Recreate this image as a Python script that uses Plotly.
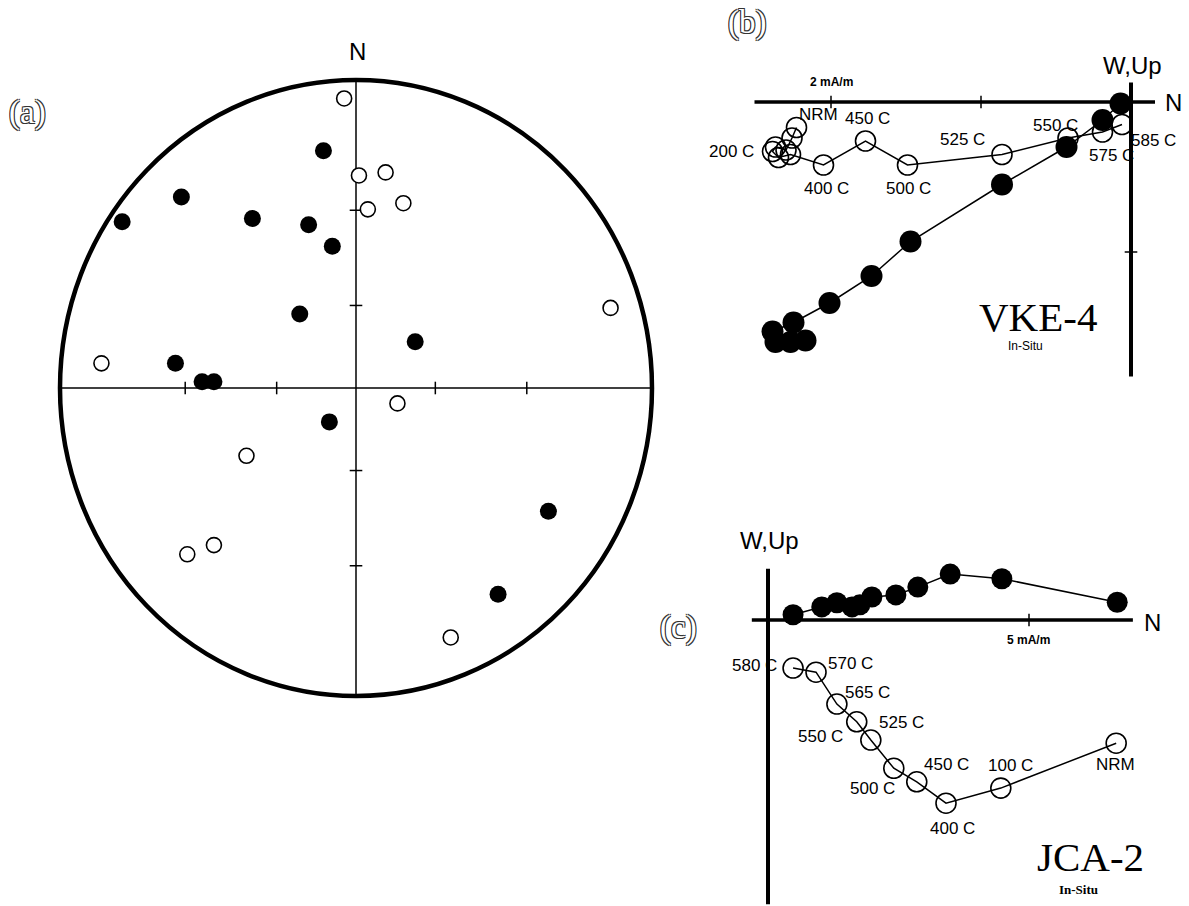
import plotly.graph_objects as go

# ---------------- DATA ----------------
# (a) stereographic projection, unit circle coordinates (east, north)
a_open_x = [-0.04, 0.01, 0.10, 0.04, 0.16, -0.86, 0.86, 0.14, -0.37, -0.48, -0.57, 0.32]
a_open_y = [0.94, 0.69, 0.70, 0.58, 0.60, 0.08, 0.26, -0.05, -0.22, -0.51, -0.54, -0.81]
a_fill_x = [-0.11, -0.59, -0.79, -0.35, -0.16, -0.08, -0.19, 0.20, -0.61, -0.52, -0.48, -0.09, 0.65, 0.48]
a_fill_y = [0.77, 0.62, 0.54, 0.55, 0.53, 0.46, 0.24, 0.15, 0.08, 0.02, 0.02, -0.11, -0.40, -0.67]
a_ticks = [-0.577, -0.268, 0.268, 0.577]

# (b) VKE-4 orthogonal plot, mA/m (N, W/Up)
b_open_x = [-2.23, -2.26, -2.30, -2.37, -2.39, -2.35, -2.27, -2.05, -1.77, -1.49, -0.86, -0.42, -0.19, -0.06]
b_open_y = [-0.17, -0.24, -0.32, -0.30, -0.33, -0.37, -0.35, -0.42, -0.26, -0.42, -0.35, -0.24, -0.20, -0.15]
b_open_lab = ["NRM", "", "", "", "200 C", "", "", "400 C", "450 C", "500 C", "525 C", "550 C", "575 C", "585 C"]
b_fill_x = [-0.07, -0.19, -0.43, -0.86, -1.47, -1.73, -2.01, -2.25, -2.39, -2.37, -2.27, -2.17]
b_fill_y = [-0.01, -0.12, -0.30, -0.55, -0.93, -1.16, -1.34, -1.47, -1.53, -1.60, -1.60, -1.59]
b_xticks = [-2, -1]
b_yticks = [-1]

# (c) JCA-2 orthogonal plot, mA/m (N, W/Up)
c_open_x = [0.48, 0.92, 1.32, 1.70, 1.97, 2.41, 2.85, 3.41, 4.46, 6.67]
c_open_y = [-0.92, -1.00, -1.61, -1.95, -2.30, -2.84, -3.10, -3.51, -3.22, -2.36]
c_open_lab = ["580 C", "570 C", "565 C", "525 C", "550 C", "500 C", "450 C", "400 C", "100 C", "NRM"]
c_fill_x = [0.48, 1.03, 1.32, 1.61, 1.76, 1.99, 2.45, 2.87, 3.49, 4.48, 6.69]
c_fill_y = [0.10, 0.25, 0.33, 0.25, 0.29, 0.44, 0.48, 0.63, 0.88, 0.79, 0.34]
c_xticks = [5]

# ---------------- LAYOUT HELPERS ----------------
W, H = 1189, 906


def xdom(p0, p1):
    return [p0 / W, p1 / W]


def ydom(top, bottom):
    return [1 - bottom / H, 1 - top / H]


def px(x, y):
    return dict(x=x / W, y=1 - y / H, xref="paper", yref="paper",
                xanchor="center", yanchor="middle", showarrow=False)


# panel geometry (pixel origin, pixel per unit)
A_CX, A_CY, A_RX, A_RY = 356, 388, 296, 308
B_OX, B_OY, B_S = 1131, 102, 150
C_OX, C_OY, C_S = 768, 620, 52.2

a_xr, a_yr = [-1.1, 1.1], [-1.1, 1.1]
b_xr, b_yr = [-2.75, 0.35], [-1.9, 0.55]
c_xr, c_yr = [-0.6, 7.3], [-5.45, 1.3]

fig = go.Figure()

BLACK = "black"
LBL_FONT = dict(family="Liberation Sans, Arial", size=17, color=BLACK)

# ---------- panel (a) ----------
fig.add_trace(go.Scatter(x=a_ticks, y=[0] * 4, mode="markers", xaxis="x", yaxis="y",
                         marker=dict(symbol="line-ns", size=9, line=dict(width=1.5, color=BLACK)),
                         hoverinfo="skip"))
fig.add_trace(go.Scatter(x=[0] * 4, y=a_ticks, mode="markers", xaxis="x", yaxis="y",
                         marker=dict(symbol="line-ew", size=9, line=dict(width=1.5, color=BLACK)),
                         hoverinfo="skip"))
fig.add_trace(go.Scatter(x=a_open_x, y=a_open_y, mode="markers", xaxis="x", yaxis="y",
                         marker=dict(symbol="circle", size=15, color="white",
                                     line=dict(width=1.6, color=BLACK))))
fig.add_trace(go.Scatter(x=a_fill_x, y=a_fill_y, mode="markers", xaxis="x", yaxis="y",
                         marker=dict(symbol="circle", size=17, color=BLACK,
                                     line=dict(width=0, color=BLACK))))

shapes = [
    dict(type="circle", xref="x", yref="y", x0=-1, y0=-1, x1=1, y1=1,
         line=dict(color=BLACK, width=4.5), layer="above"),
    dict(type="line", xref="x", yref="y", x0=-1, y0=0, x1=1, y1=0,
         line=dict(color=BLACK, width=1.5), layer="below"),
    dict(type="line", xref="x", yref="y", x0=0, y0=-1, x1=0, y1=1,
         line=dict(color=BLACK, width=1.5), layer="below"),
]

# ---------- panel (b) ----------
fig.add_trace(go.Scatter(x=b_open_x, y=b_open_y, mode="lines+markers", xaxis="x2", yaxis="y2",
                         line=dict(color=BLACK, width=1.5),
                         marker=dict(symbol="circle-open", size=20, color=BLACK,
                                     line=dict(width=1.6, color=BLACK))))
fig.add_trace(go.Scatter(x=b_fill_x, y=b_fill_y, mode="lines+markers", xaxis="x2", yaxis="y2",
                         line=dict(color=BLACK, width=1.5),
                         marker=dict(symbol="circle", size=22, color=BLACK)))
fig.add_trace(go.Scatter(x=b_xticks, y=[0] * len(b_xticks), mode="markers", xaxis="x2", yaxis="y2",
                         marker=dict(symbol="line-ns", size=9, line=dict(width=1.5, color=BLACK)),
                         hoverinfo="skip"))
fig.add_trace(go.Scatter(x=[0] * len(b_yticks), y=b_yticks, mode="markers", xaxis="x2", yaxis="y2",
                         marker=dict(symbol="line-ew", size=9, line=dict(width=1.5, color=BLACK)),
                         hoverinfo="skip"))
shapes += [
    dict(type="line", xref="x2", yref="y2", x0=-2.51, y0=0, x1=0.16, y1=0,
         line=dict(color=BLACK, width=3.5), layer="below"),
    dict(type="line", xref="x2", yref="y2", x0=0, y0=0.13, x1=0, y1=-1.83,
         line=dict(color=BLACK, width=4), layer="below"),
]

# ---------- panel (c) ----------
fig.add_trace(go.Scatter(x=c_open_x, y=c_open_y, mode="lines+markers", xaxis="x3", yaxis="y3",
                         line=dict(color=BLACK, width=1.5),
                         marker=dict(symbol="circle-open", size=20, color=BLACK,
                                     line=dict(width=1.6, color=BLACK))))
fig.add_trace(go.Scatter(x=c_fill_x, y=c_fill_y, mode="lines+markers", xaxis="x3", yaxis="y3",
                         line=dict(color=BLACK, width=1.5),
                         marker=dict(symbol="circle", size=21, color=BLACK)))
fig.add_trace(go.Scatter(x=c_xticks, y=[0] * len(c_xticks), mode="markers", xaxis="x3", yaxis="y3",
                         marker=dict(symbol="line-ns", size=9, line=dict(width=1.5, color=BLACK)),
                         hoverinfo="skip"))
shapes += [
    dict(type="line", xref="x3", yref="y3", x0=-0.31, y0=0, x1=6.99, y1=0,
         line=dict(color=BLACK, width=3.5), layer="below"),
    dict(type="line", xref="x3", yref="y3", x0=0, y0=0.98, x1=0, y1=-5.45,
         line=dict(color=BLACK, width=4), layer="below"),
]

# ---------- annotations ----------
ann = []
# temperature labels, offsets in screen pixels (dx right, dy down)
b_off = {"NRM": (22, -13), "200 C": (-41, 0), "400 C": (3, 23), "450 C": (2, -23),
         "500 C": (1, 23), "525 C": (-40, -15), "550 C": (-13, -13), "575 C": (9, 23),
         "585 C": (31, 16)}
for x, y, t in zip(b_open_x, b_open_y, b_open_lab):
    if t:
        dx, dy = b_off[t]
        ann.append(dict(x=x, y=y, xref="x2", yref="y2", text=t, showarrow=False,
                        xanchor="center", yanchor="middle",
                        xshift=dx, yshift=-dy, font=LBL_FONT))
c_off = {"580 C": (-39, -3), "570 C": (34, -9), "565 C": (31, -12), "525 C": (45, 1),
         "550 C": (-50, -4), "500 C": (-21, 20), "450 C": (30, -17), "400 C": (6, 25),
         "100 C": (10, -23), "NRM": (-1, 21)}
for x, y, t in zip(c_open_x, c_open_y, c_open_lab):
    dx, dy = c_off[t]
    ann.append(dict(x=x, y=y, xref="x3", yref="y3", text=t, showarrow=False,
                    xanchor="center", yanchor="middle",
                    xshift=dx, yshift=-dy, font=LBL_FONT))

BIG = dict(family="Liberation Sans, Arial", size=24, color=BLACK)
SMALLB = dict(family="Liberation Sans, Arial", size=12, color=BLACK, weight="bold")
SERIF_BIG = dict(family="Liberation Serif, Times New Roman", size=41, color=BLACK)
OUTLINE = dict(family="Liberation Serif, DejaVu Serif", size=33, color="white",
               shadow="-1px -1px 0 #333, 1px -1px 0 #333, -1px 1px 0 #333, 1px 1px 0 #333")

ann += [
    dict(**px(357, 52), text="N", font=BIG),
    dict(**px(1173, 102), text="N", font=BIG),
    dict(**px(1132, 65), text="W,Up", font=BIG),
    dict(**px(1152, 622), text="N", font=BIG),
    dict(**px(769, 540), text="W,Up", font=BIG),
    dict(**px(831, 82), text="2 mA/m", font=SMALLB),
    dict(**px(1028, 640), text="5 mA/m", font=SMALLB),
    dict(**px(1038, 317), text="VKE-4", font=SERIF_BIG),
    dict(**px(1025, 346), text="In-Situ",
         font=dict(family="Liberation Sans, Arial", size=12, color=BLACK)),
    dict(**px(1090, 857), text="JCA-2", font=SERIF_BIG),
    dict(**px(1078, 889), text="In-Situ",
         font=dict(family="Liberation Serif, Times New Roman", size=13, color=BLACK, weight="bold")),
    dict(**px(27, 113), text="(a)", font=OUTLINE),
    dict(**px(747, 22), text="(b)", font=OUTLINE),
    dict(**px(678, 627), text="(c)", font=OUTLINE),
]

hidden = dict(visible=False, showgrid=False, zeroline=False, fixedrange=True)

fig.update_layout(
    width=W, height=H,
    margin=dict(l=0, r=0, t=0, b=0),
    paper_bgcolor="white", plot_bgcolor="white",
    showlegend=False,
    xaxis=dict(**hidden, range=a_xr,
               domain=xdom(A_CX + a_xr[0] * A_RX, A_CX + a_xr[1] * A_RX)),
    yaxis=dict(**hidden, range=a_yr,
               domain=ydom(A_CY - a_yr[1] * A_RY, A_CY - a_yr[0] * A_RY)),
    xaxis2=dict(**hidden, range=b_xr, anchor="y2",
                domain=xdom(B_OX + b_xr[0] * B_S, B_OX + b_xr[1] * B_S)),
    yaxis2=dict(**hidden, range=b_yr, anchor="x2",
                domain=ydom(B_OY - b_yr[1] * B_S, B_OY - b_yr[0] * B_S)),
    xaxis3=dict(**hidden, range=c_xr, anchor="y3",
                domain=xdom(C_OX + c_xr[0] * C_S, C_OX + c_xr[1] * C_S)),
    yaxis3=dict(**hidden, range=c_yr, anchor="x3",
                domain=ydom(C_OY - c_yr[1] * C_S, C_OY - c_yr[0] * C_S)),
    shapes=shapes,
    annotations=ann,
)

fig.write_html("out.html", config={"displayModeBar": False},
               post_script="document.body.style.margin='0px';document.body.style.overflow='hidden';")
